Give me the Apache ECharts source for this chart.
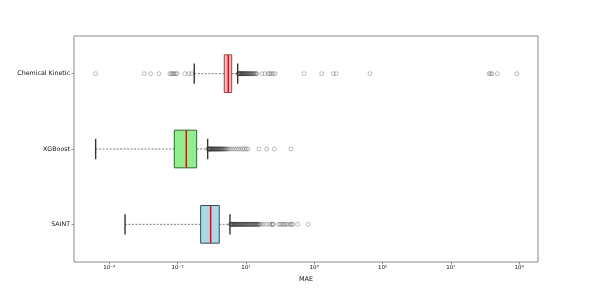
<!DOCTYPE html>
<html>
<head>
<meta charset="utf-8">
<script src="https://cdn.jsdelivr.net/npm/echarts@6/dist/echarts.min.js"></script>
<style>html,body{margin:0;padding:0;background:#fff}#c{width:598px;height:299px}</style>
</head>
<body>
<div id="c"></div>
<script>
// Categories, bottom to top
var categories = ['SAINT', 'XGBoost', 'Chemical Kinetic'];
// Box statistics: [whiskerLow, Q1, median, Q3, whiskerHigh]
var statsSAINT = [0.0029, 0.474, 0.93, 1.66, 3.42];
var statsXGBoost = [0.0004, 0.080, 0.180, 0.362, 0.76];
var statsChem = [0.308, 2.33, 3.05, 3.84, 5.75];
// Outliers
var outSAINT = [3.5, 3.6, 3.7, 3.8, 3.9, 4.0, 4.1, 4.2, 4.3, 4.45, 4.6, 4.75, 4.9, 5.05, 5.2, 5.35, 5.5, 5.7, 5.9, 6.1, 6.3, 6.5, 6.7, 6.95, 7.2, 7.45, 7.7, 8.0, 8.3, 8.6, 8.9, 9.2, 9.6, 10.0, 10.3, 10.7, 11.1, 11.5, 12.0, 12.5, 13.0, 13.5, 14.1, 14.7, 15.3, 16.0, 16.6, 17.3, 18.0, 18.8, 19.6, 20.5, 21.3, 22.2, 23.2, 24.2, 25.3, 29, 34, 40.6, 50, 57, 60, 63, 89, 100, 112, 125, 137, 155, 174, 200, 219, 240, 329, 672];
var outXGBoost = [0.78, 0.8, 0.82, 0.84, 0.86, 0.88, 0.9, 0.92, 0.95, 0.97, 0.99, 1.02, 1.05, 1.08, 1.11, 1.14, 1.17, 1.2, 1.24, 1.28, 1.32, 1.36, 1.4, 1.45, 1.5, 1.55, 1.6, 1.66, 1.72, 1.78, 1.84, 1.9, 1.97, 2.05, 2.15, 2.25, 2.35, 2.5, 2.65, 2.8, 3.0, 3.4, 3.9, 4.5, 5.2, 6.0, 6.9, 7.9, 9.0, 10.2, 11.5, 24.2, 40.7, 68, 209];
var outChem = [0.0004, 0.0106, 0.0163, 0.0285, 0.060, 0.066, 0.072, 0.079, 0.088, 0.0955, 0.165, 0.216, 0.26, 5.9, 6.05, 6.2, 6.35, 6.5, 6.7, 6.9, 7.1, 7.3, 7.5, 7.7, 7.9, 8.1, 8.35, 8.6, 8.9, 9.2, 9.5, 9.8, 10.1, 10.5, 10.9, 11.3, 11.7, 12.2, 12.7, 13.2, 13.8, 14.4, 15.1, 15.8, 16.6, 17.5, 18.5, 19.6, 21.0, 29.6, 36, 45, 50, 55, 63, 72, 503, 1660, 3630, 4350, 43000, 1.3e8, 1.45e8, 1.6e8, 2.3e8, 8.5e8];
// Tick values
var tickValues = [1e-3, 1e-1, 1e1, 1e3, 1e5, 1e7, 1e9];
var xMin = 9.3e-5, xMax = 3.55e9;

var boxColors = ['#add8e6', '#90ee90', '#ffb6c1'];
var edgeColors = ['#2f4f5f', '#2e6b2e', '#8b4a4a'];

var supMap = {'-': '⁻', '0': '⁰', '1': '¹', '2': '²', '3': '³', '4': '⁴', '5': '⁵', '6': '⁶', '7': '⁷', '8': '⁸', '9': '⁹'};
function fmt(v) {
  var e = String(Math.round(Math.log10(v)));
  return '10' + e.split('').map(function (c) { return supMap[c]; }).join('');
}

var boxData = [[0].concat(statsSAINT), [1].concat(statsXGBoost), [2].concat(statsChem)];

function renderBox(params, api) {
  var ci = api.value(0);
  var y = api.coord([1, ci])[1];
  var band = Math.abs(api.coord([1, 1])[1] - api.coord([1, 0])[1]);
  var xs = [1, 2, 3, 4, 5].map(function (k) { return api.coord([api.value(k), ci])[0]; });
  var bh = band * 0.5, ch = band * 0.27;
  var dash = {stroke: '#444', lineWidth: 0.7, lineDash: [2, 1.5]};
  var cap = {stroke: '#333', lineWidth: 1.4};
  return {
    type: 'group',
    children: [
      {type: 'line', shape: {x1: xs[0], y1: y, x2: xs[1], y2: y}, style: dash},
      {type: 'line', shape: {x1: xs[3], y1: y, x2: xs[4], y2: y}, style: dash},
      {type: 'line', shape: {x1: xs[0], y1: y - ch / 2, x2: xs[0], y2: y + ch / 2}, style: cap},
      {type: 'line', shape: {x1: xs[4], y1: y - ch / 2, x2: xs[4], y2: y + ch / 2}, style: cap},
      {type: 'rect', shape: {x: xs[1], y: y - bh / 2, width: xs[3] - xs[1], height: bh},
        style: {fill: boxColors[ci], stroke: edgeColors[ci], lineWidth: 1}},
      {type: 'line', shape: {x1: xs[2], y1: y - bh / 2, x2: xs[2], y2: y + bh / 2},
        style: {stroke: '#ff0000', lineWidth: 1.5}}
    ]
  };
}

function pts(arr, cat) { return arr.map(function (v) { return [v, cat]; }); }
var outStyle = {color: 'rgba(0,0,0,0)', borderColor: 'rgba(50,50,50,0.65)', borderWidth: 0.6};

var chart = echarts.init(document.getElementById('c'), null, {renderer: 'canvas'});
chart.setOption({
  animation: false,
  backgroundColor: '#fff',
  grid: {left: 74, right: 60, top: 36, bottom: 37, show: true, borderColor: '#8a8a8a', borderWidth: 1, backgroundColor: 'transparent'},
  xAxis: {
    type: 'log', logBase: 10, min: xMin, max: xMax,
    name: 'MAE', nameLocation: 'middle', nameGap: 12,
    nameTextStyle: {fontFamily: 'DejaVu Sans', fontSize: 6.5, color: '#111'},
    axisLine: {show: false},
    splitLine: {show: false},
    minorTick: {show: false},
    axisTick: {show: true, length: 2.5, lineStyle: {color: '#555', width: 0.6}, customValues: tickValues},
    axisLabel: {fontFamily: 'DejaVu Sans', fontSize: 5.5, color: '#111', margin: 3, customValues: tickValues, formatter: fmt}
  },
  yAxis: {
    type: 'category', data: categories,
    axisLine: {show: false},
    axisTick: {show: true, alignWithLabel: true, length: 2.5, lineStyle: {color: '#555', width: 0.6}},
    axisLabel: {fontFamily: 'DejaVu Sans', fontSize: 6.3, color: '#111', margin: 4},
    splitLine: {show: false}
  },
  series: [
    {type: 'scatter', symbol: 'circle', symbolSize: 4, itemStyle: outStyle, data: pts(outSAINT, 'SAINT'), z: 3},
    {type: 'scatter', symbol: 'circle', symbolSize: 4, itemStyle: outStyle, data: pts(outXGBoost, 'XGBoost'), z: 3},
    {type: 'scatter', symbol: 'circle', symbolSize: 4, itemStyle: outStyle, data: pts(outChem, 'Chemical Kinetic'), z: 3},
    {type: 'custom', renderItem: renderBox, data: boxData, encode: {x: [1, 2, 3, 4, 5], y: 0}, z: 4}
  ]
});
</script>
</body>
</html>
